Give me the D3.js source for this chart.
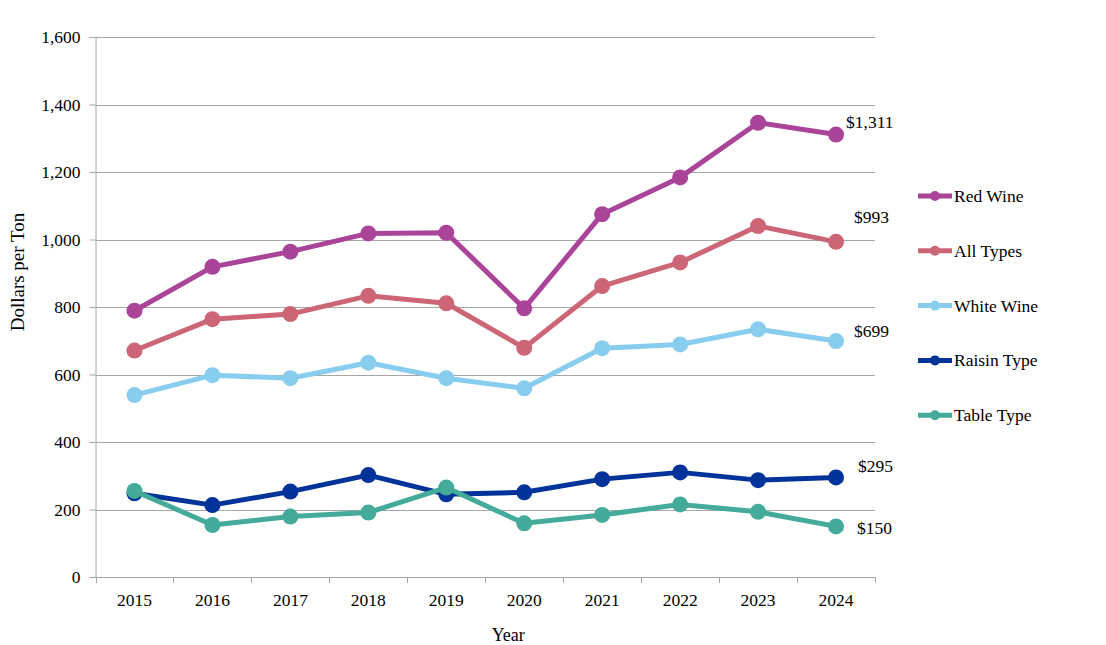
<!DOCTYPE html>
<html>
<head>
<meta charset="utf-8">
<script src="https://cdn.jsdelivr.net/npm/d3@7"></script>
<style>
  html, body { margin: 0; padding: 0; background: #fff; }
  svg, svg text { font-family: "Liberation Serif", "Times New Roman", serif !important; }
</style>
</head>
<body>
<svg id="chart" width="1106" height="645"></svg>
<script>
const years = ["2015","2016","2017","2018","2019","2020","2021","2022","2023","2024"];
const seriesNames = ["Red Wine","All Types","White Wine","Raisin Type","Table Type"];
const redWine   = [789, 919, 964, 1018, 1020, 796, 1075, 1184, 1346, 1311];
const allTypes  = [671, 764, 779, 833, 811, 679, 862, 932, 1040, 993];
const whiteWine = [539, 598, 589, 635, 589, 559, 678, 689, 734, 699];
const raisinType= [248, 213, 253, 302, 245, 251, 290, 310, 287, 295];
const tableType = [255, 154, 179, 191, 265, 159, 184, 215, 193, 150];
const yTicks = [0, 200, 400, 600, 800, 1000, 1200, 1400, 1600];
const endLabels = ["$1,311", "$993", "$699", "$295", "$150"];

const colors = ["#AA4499", "#CC6677", "#88CCEE", "#003399", "#44AA99"];
const labelOffsets = [[10, -7], [18, -19], [18, -4], [22, -5.5], [21, 8]];

const series = seriesNames.map((name, i) => ({
  name, color: colors[i],
  values: [redWine, allTypes, whiteWine, raisinType, tableType][i],
  label: endLabels[i], off: labelOffsets[i]
}));

const svg = d3.select("#chart");
const mLeft = 95.5, mRight = 875, mTop = 37, mBottom = 577;

const x = d3.scaleBand().domain(years).range([mLeft, mRight]);
const y = d3.scaleLinear().domain([0, 1600]).range([mBottom, mTop]);
const cx = d => x(d) + x.bandwidth() / 2;

// gridlines
svg.append("g").selectAll("line").data(yTicks.filter(t => t > 0)).join("line")
  .attr("x1", mLeft).attr("x2", mRight)
  .attr("y1", d => Math.round(y(d)) + 0.5).attr("y2", d => Math.round(y(d)) + 0.5)
  .attr("stroke", "#A6A6A6").attr("stroke-width", 1);

// y axis
const yAxis = svg.append("g").attr("transform", `translate(${mLeft},0)`)
  .call(d3.axisLeft(y).tickValues(yTicks).tickFormat(d3.format(",")).tickSize(6).tickPadding(9));
yAxis.attr("font-family", null);
yAxis.select(".domain").attr("stroke", "#A6A6A6");
yAxis.selectAll(".tick line").attr("stroke", "#A6A6A6");
yAxis.selectAll(".tick text").attr("font-size", 17.5).attr("fill", "#000");

// x axis
const xAxis = svg.append("g").attr("transform", `translate(0,${mBottom + 0.5})`)
  .call(d3.axisBottom(x).tickSize(0).tickPadding(16));
xAxis.attr("font-family", null);
xAxis.select(".domain").attr("stroke", "#A6A6A6").attr("d", `M${mLeft},0H${mRight}`);
xAxis.selectAll(".tick text").attr("font-size", 17.5).attr("fill", "#000");
// category separators
svg.append("g").selectAll("line").data(years.concat(["end"])).join("line")
  .attr("x1", (d, i) => Math.round(mLeft + i * x.step()) + 0.5)
  .attr("x2", (d, i) => Math.round(mLeft + i * x.step()) + 0.5)
  .attr("y1", mBottom).attr("y2", mBottom + 6)
  .attr("stroke", "#A6A6A6");

// axis titles
svg.append("text").attr("transform", `translate(24,272) rotate(-90)`)
  .attr("text-anchor", "middle").attr("font-size", 19).text("Dollars per Ton");
svg.append("text").attr("x", (mLeft + mRight) / 2 + 23).attr("y", 641)
  .attr("text-anchor", "middle").attr("font-size", 18).text("Year");

// lines
const line = d3.line().x((d, i) => cx(years[i])).y(d => y(d));
const g = svg.append("g");
series.forEach(s => {
  g.append("path").datum(s.values).attr("d", line)
    .attr("fill", "none").attr("stroke", s.color).attr("stroke-width", 5)
    .attr("stroke-linejoin", "round");
  g.append("g").selectAll("circle").data(s.values).join("circle")
    .attr("cx", (d, i) => cx(years[i])).attr("cy", d => y(d)).attr("r", 8)
    .attr("fill", s.color);
  const last = s.values.length - 1;
  g.append("text")
    .attr("x", cx(years[last]) + s.off[0])
    .attr("y", y(s.values[last]) + s.off[1])
    .attr("font-size", 17.5).text(s.label);
});

// legend
const legend = svg.append("g");
series.forEach((s, i) => {
  const ly = 196 + i * 54.8;
  legend.append("line").attr("x1", 918).attr("x2", 952).attr("y1", ly).attr("y2", ly)
    .attr("stroke", s.color).attr("stroke-width", 5);
  legend.append("circle").attr("cx", 935).attr("cy", ly).attr("r", 5).attr("fill", s.color);
  legend.append("text").attr("x", 954).attr("y", ly + 6).attr("font-size", 17.5).text(s.name);
});
</script>
</body>
</html>
